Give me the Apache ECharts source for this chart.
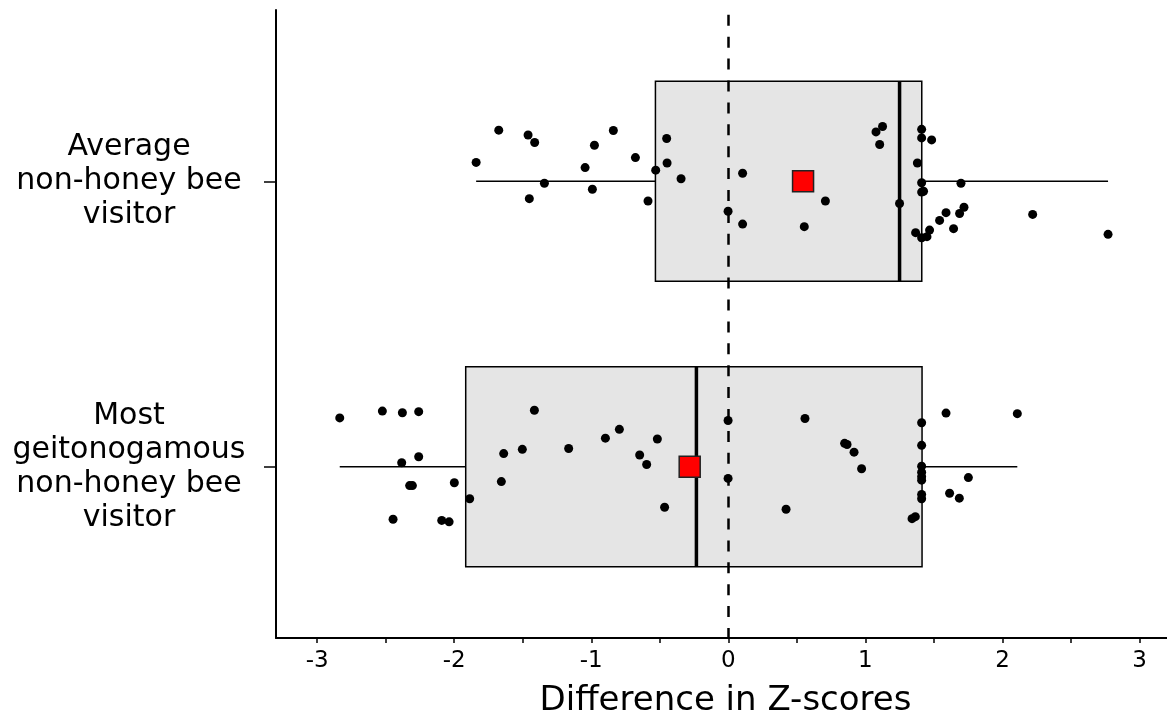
<!DOCTYPE html>
<html>
<head>
<meta charset="utf-8">
<script src="https://cdn.jsdelivr.net/npm/echarts@6/dist/echarts.min.js"></script>
<style>html,body{margin:0;padding:0;background:#fff}#c{width:1167px;height:715px}</style>
</head>
<body>
<div id="c"></div>
<script>
// Category labels (y position 1 = bottom, 2 = top)
const categories = ['Most\ngeitonogamous\nnon-honey bee\nvisitor', 'Average\nnon-honey bee\nvisitor'];
const categoryPos = [1, 2];

// Box statistics: [min, Q1, median, Q3, max]
const boxMost = [-2.835, -1.916, -0.233, 1.413, 2.108];
const boxAvg = [-1.84, -0.532, 1.249, 1.411, 2.77];

// Means
const meanMost = -0.282;
const meanAvg = 0.545;

// Individual points (x = Z-score difference, jitter = vertical offset)
const avgX = [-1.840,-1.675,-1.461,-1.413,-1.342,-1.452,-1.045,-0.977,-0.992,-0.839,-0.678,-0.586,-0.530,-0.450,-0.447,-0.345,-0.002,0.104,0.104,0.708,0.554,1.077,1.125,1.104,1.249,1.410,1.410,1.483,1.379,1.410,1.410,1.424,1.697,1.366,1.410,1.449,1.468,1.541,1.588,1.687,1.719,1.643,2.220,2.770];
const avgJitter = [0.066,0.179,0.162,0.136,-0.007,-0.061,0.048,0.126,-0.028,0.178,0.083,-0.069,0.039,0.150,0.064,0.009,-0.105,0.028,-0.150,-0.069,-0.159,0.173,0.192,0.129,-0.078,0.182,0.152,0.145,0.064,-0.005,-0.038,-0.035,-0.007,-0.180,-0.198,-0.194,-0.171,-0.137,-0.110,-0.113,-0.091,-0.166,-0.116,-0.186];

const mostX = [-2.835,-2.524,-2.378,-2.259,-2.383,-2.259,-2.325,-2.305,-1.999,-1.887,-2.446,-2.091,-2.037,-1.415,-1.639,-1.503,-1.656,-1.165,-0.897,-0.795,-0.518,-0.647,-0.596,-0.465,-0.002,-0.002,0.559,0.421,0.848,0.866,0.917,0.972,1.410,1.410,1.410,1.410,1.410,1.410,1.410,1.410,1.340,1.364,1.588,2.108,1.751,1.614,1.685];
const mostJitter = [0.171,0.195,0.189,0.193,0.014,0.035,-0.066,-0.066,-0.056,-0.112,-0.184,-0.188,-0.193,0.198,0.046,0.061,-0.052,0.064,0.100,0.131,0.097,0.041,0.008,-0.142,0.162,-0.041,0.169,-0.149,0.082,0.078,0.051,-0.007,0.154,0.075,0.002,-0.019,-0.035,-0.047,-0.097,-0.112,-0.182,-0.175,0.188,0.186,-0.038,-0.093,-0.110];

// Axis ticks
const xTickValues = [-3,-2.5,-2,-1.5,-1,-0.5,0,0.5,1,1.5,2,2.5,3];
const xLabelValues = [-3,-2,-1,0,1,2,3];

const FONT = "'DejaVu Sans', 'Liberation Sans', Arial, sans-serif";
const BOX_H = 0.70;

const boxData = [
  [categoryPos[0]].concat(boxMost),
  [categoryPos[1]].concat(boxAvg)
];
const pointData = avgX.map((x, i) => [x, categoryPos[1] + avgJitter[i]])
  .concat(mostX.map((x, i) => [x, categoryPos[0] + mostJitter[i]]));
const meanData = [[meanMost, categoryPos[0]], [meanAvg, categoryPos[1]]];

const chart = echarts.init(document.getElementById('c'));
chart.setOption({
  animation: false,
  backgroundColor: '#fff',
  grid: { left: 276, right: 0, top: 10, bottom: 77, containLabel: false, outerBoundsMode: 'none' },
  xAxis: {
    type: 'value', min: -3.3, max: 3.2,
    splitLine: { show: false },
    axisLine: { show: true, onZero: false, lineStyle: { color: '#000', width: 2 } },
    axisTick: { show: true, length: 5, customValues: xTickValues, lineStyle: { color: '#000', width: 1.5 } },
    axisLabel: { customValues: xLabelValues, color: '#000', fontSize: 23, fontFamily: FONT, margin: 12,
      formatter: v => String(v) },
    name: 'Difference in Z-scores', nameLocation: 'middle', nameGap: 46,
    nameTextStyle: { color: '#000', fontSize: 34, fontFamily: FONT, padding: [0, 0, 0, 8] }
  },
  yAxis: {
    type: 'value', min: 0.4, max: 2.6,
    splitLine: { show: false },
    axisLine: { show: true, onZero: false, lineStyle: { color: '#000', width: 2 } },
    axisTick: { show: true, length: 12, customValues: categoryPos, lineStyle: { color: '#000', width: 1.5 } },
    axisLabel: { customValues: categoryPos, color: '#000', fontSize: 30, lineHeight: 34, fontFamily: FONT,
      align: 'center', margin: 147,
      formatter: v => categories[categoryPos.indexOf(Math.round(v))] || '' }
  },
  series: [
    {
      type: 'custom', z: 1,
      renderItem: function (params, api) {
        const y = api.value(0);
        const mn = api.coord([api.value(1), y]);
        const q1 = api.coord([api.value(2), y]);
        const md = api.coord([api.value(3), y]);
        const q3 = api.coord([api.value(4), y]);
        const mx = api.coord([api.value(5), y]);
        const h = api.size([0, BOX_H])[1];
        return {
          type: 'group',
          children: [
            { type: 'line', shape: { x1: mn[0], y1: mn[1], x2: q1[0], y2: q1[1] }, style: { stroke: '#000', lineWidth: 1.5 } },
            { type: 'line', shape: { x1: q3[0], y1: q3[1], x2: mx[0], y2: mx[1] }, style: { stroke: '#000', lineWidth: 1.5 } },
            { type: 'rect', shape: { x: q1[0], y: q1[1] - h / 2, width: q3[0] - q1[0], height: h }, style: { fill: '#e5e5e5', stroke: '#000', lineWidth: 1.5 } },
            { type: 'line', shape: { x1: md[0], y1: md[1] - h / 2, x2: md[0], y2: md[1] + h / 2 }, style: { stroke: '#000', lineWidth: 3.5 } }
          ]
        };
      },
      encode: { x: [1, 2, 3, 4, 5], y: 0 },
      data: boxData
    },
    {
      type: 'line', data: [], z: 2,
      markLine: {
        silent: true, symbol: 'none', label: { show: false },
        lineStyle: { color: '#000', width: 2.5, type: [11, 10.9], dashOffset: 1 },
        data: [{ xAxis: 0 }]
      }
    },
    {
      type: 'scatter', z: 3, symbol: 'circle', symbolSize: 9,
      itemStyle: { color: '#000', opacity: 1 },
      data: pointData
    },
    {
      type: 'scatter', z: 4, symbol: 'rect', symbolSize: 21,
      itemStyle: { color: '#ff0000', borderColor: '#222', borderWidth: 1.5, opacity: 1 },
      data: meanData
    }
  ]
});
</script>
</body>
</html>
